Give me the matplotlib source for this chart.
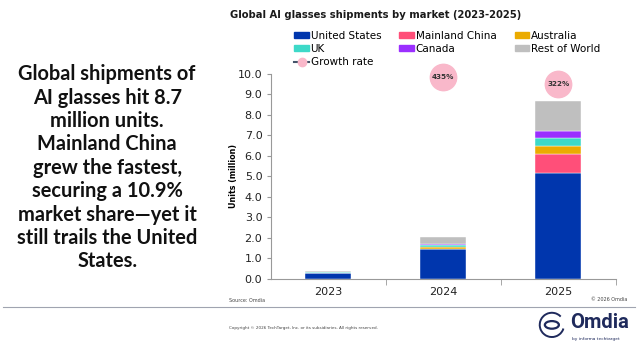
import matplotlib.pyplot as plt
from matplotlib.lines import Line2D
from matplotlib.patches import Patch, Arc, Circle

# Shipments by market, million units
years = ["2023", "2024", "2025"]
united_states = [0.26, 1.44, 5.15]
mainland_china = [0.005, 0.03, 0.95]
australia = [0.02, 0.09, 0.40]
uk = [0.02, 0.08, 0.39]
canada = [0.01, 0.06, 0.34]
rest_of_world = [0.068, 0.35, 1.44]
growth_rate = [None, 435, 322]

series = [
    ("United States", united_states, "#0036AD"),
    ("Mainland China", mainland_china, "#FF4F79"),
    ("Australia", australia, "#EBAB00"),
    ("UK", uk, "#3DD9C8"),
    ("Canada", canada, "#9B2FFF"),
    ("Rest of World", rest_of_world, "#BFBFBF"),
]

plt.rcParams["font.family"] = ["DejaVu Sans"]

fig = plt.figure(figsize=(6.38, 3.46), dpi=100)
ax = fig.add_axes([0.4243, 0.1945, 0.5412, 0.5916])

x = range(len(years))
bottom = [0.0] * len(years)
handles = {}
for name, vals, color in series:
    ax.bar(x, vals, 0.4, bottom=bottom, color=color, edgecolor="white", linewidth=0.3)
    bottom = [b + v for b, v in zip(bottom, vals)]
    handles[name] = Patch(color=color, label=name)

# growth rate bubbles on a hidden secondary axis
ax2 = ax.twinx()
gx = [i for i, g in enumerate(growth_rate) if g is not None]
gy = [g for g in growth_rate if g is not None]
ax2.plot(gx, gy, linestyle="none", marker="o", markersize=19, color="#F9B8CA",
         clip_on=False)
for xi, g in zip(gx, gy):
    ax2.text(xi, g, f"{g}%", ha="center", va="center", fontsize=5.2,
             fontweight="bold", color="#333333")
ax2.set_ylim(-2834, 488)
ax2.axis("off")

ax.set_xlim(-0.5, 2.5)
ax.set_ylim(0, 10)
ax.set_yticks([i for i in range(11)])
ax.set_yticklabels([f"{i:.1f}" for i in range(11)], fontsize=8, color="#222222")
ax.set_xticks(list(x))
ax.set_xticklabels(years, fontsize=8, color="#222222")
ax.set_xticks([0.5, 1.5, 2.5], minor=True)
ax.tick_params(axis="x", which="major", length=0, pad=6)
ax.tick_params(axis="x", which="minor", length=4, color="#999999", direction="out")
ax.tick_params(axis="y", length=3, color="#999999", pad=3)
for s in ["top", "right"]:
    ax.spines[s].set_visible(False)
for s in ["left", "bottom"]:
    ax.spines[s].set_color("#999999")
    ax.spines[s].set_linewidth(0.8)
ax.set_ylabel("Units (million)", fontsize=5.8, fontweight="bold")
ax.yaxis.set_label_coords(-0.095, 0.5)

growth_handle = Line2D([0], [0], color="#44546A", marker="o", markersize=6,
                       markerfacecolor="#F9B8CA", markeredgecolor="#F9B8CA", lw=1.5,
                       label="Growth rate")
order = [handles["United States"], handles["UK"], growth_handle,
         handles["Mainland China"], handles["Canada"],
         handles["Australia"], handles["Rest of World"]]
fig.legend(handles=order, ncol=3, loc="upper left", bbox_to_anchor=(0.455, 0.922),
           frameon=False, fontsize=7.5, handlelength=1.4, handleheight=0.5,
           handletextpad=0.15, columnspacing=1.75, labelspacing=0.28, borderaxespad=0)

fig.text(0.589, 0.957, "Global AI glasses shipments by market (2023-2025)",
         ha="center", va="center", fontsize=7.2, fontweight="bold", color="#1a1a1a")

fig.text(0.168, 0.515,
         "Global shipments of\nAI glasses hit 8.7\nmillion units.\nMainland China\n"
         "grew the fastest,\nsecuring a 10.9%\nmarket share\u2014yet it\n"
         "still trails the United\nStates.",
         ha="center", va="center", fontsize=14.4, fontweight="bold",
         family="Lato", linespacing=1.21, color="#111111")

fig.text(0.359, 0.131, "Source: Omdia", fontsize=3.5, color="#444444", va="center")
fig.text(0.983, 0.133, "\u00a9 2026 Omdia", fontsize=3.5, color="#444444",
         va="center", ha="right")
fig.add_artist(Line2D([0.005, 0.995], [0.112, 0.112], color="#A0A4B0", lw=0.8))
fig.text(0.476, 0.052,
         "Copyright \u00a9 2026 TechTarget, Inc. or its subsidiaries. All rights reserved.",
         fontsize=3, color="#444444", va="center", ha="center")

# Omdia logo
lx, ly = 0.865, 0.061
fig.add_artist(Circle((lx, ly), 0.011, transform=fig.transFigure, fill=False,
                      ec="#1F2A5C", lw=1.6))
fig.add_artist(Arc((lx, ly), 0.038, 0.07, theta1=60, theta2=330,
                   transform=fig.transFigure, ec="#1F2A5C", lw=1.4))
fig.text(0.894, 0.067, "Omdia", fontsize=14.5, fontweight="bold", color="#1F2A5C",
         va="center", family="Roboto")
fig.text(0.897, 0.02, "by informa techtarget", fontsize=3.2, color="#1F2A5C",
         va="center")

fig.savefig("out.png", dpi=100)
